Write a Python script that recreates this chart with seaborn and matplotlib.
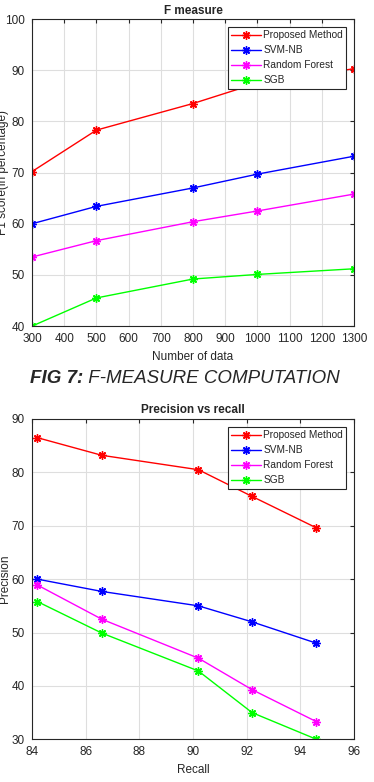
import matplotlib
matplotlib.use("Agg")
import matplotlib.pyplot as plt
import seaborn as sns
import pandas as pd

# F measure data
n_data = [300, 500, 800, 1000, 1300]
f_proposed = [70.2, 78.3, 83.5, 87.5, 90.3]
f_svmnb = [60.0, 63.4, 67.0, 69.7, 73.2]
f_rf = [53.5, 56.7, 60.4, 62.5, 65.8]
f_sgb = [40.0, 45.5, 49.2, 50.1, 51.2]

# precision vs recall data
recall = [84.2, 86.6, 90.2, 92.2, 94.6]
p_proposed = [86.5, 83.2, 80.5, 75.5, 69.6]
p_svmnb = [60.0, 57.7, 55.0, 52.0, 48.0]
p_rf = [58.9, 52.5, 45.2, 39.3, 33.3]
p_sgb = [55.8, 49.9, 42.8, 35.0, 30.0]

methods = ["Proposed Method", "SVM-NB", "Random Forest", "SGB"]
colors = ["#ff0000", "#0000ff", "#ff00ff", "#00ff00"]

sns.set_style("white")
plt.rcParams["font.family"] = ["Liberation Sans", "DejaVu Sans"]

# matlab style asterisk marker
star = (8, 2, 0)


def long_df(x, series, xname, yname):
    rows = []
    for m, ys in zip(methods, series):
        for a, b in zip(x, ys):
            rows.append({xname: a, yname: b, "method": m})
    return pd.DataFrame(rows)


def style_ax(ax):
    # seaborn paints marker edges white, asterisks need the line colour
    for ln in ax.get_lines():
        ln.set_markeredgecolor(ln.get_color())
    ax.grid(True, color="#dedede", linewidth=0.8)
    ax.set_axisbelow(True)
    ax.tick_params(direction="in", top=True, right=True, labelsize=8.5,
                   length=3, colors="#262626", pad=5)
    for s in ax.spines.values():
        s.set_color("#262626")
        s.set_linewidth(0.8)
    leg = ax.legend(loc="upper right", fontsize=7.3, frameon=True, fancybox=False,
                    edgecolor="#262626", framealpha=1, borderpad=0.35,
                    handlelength=2.9, labelspacing=0.5, handletextpad=0.25,
                    borderaxespad=0.75)
    leg.get_frame().set_linewidth(0.8)
    for ln in leg.get_lines():
        ln.set_markeredgecolor(ln.get_color())


fig = plt.figure(figsize=(3.74, 7.82), dpi=100)

ax1 = fig.add_axes([0.0856, 0.583, 0.861, 0.3926])
df1 = long_df(n_data, [f_proposed, f_svmnb, f_rf, f_sgb], "n", "f1")
sns.lineplot(data=df1, x="n", y="f1", hue="method", palette=colors,
             marker=star, markersize=6, markeredgewidth=1.0, linewidth=1.0,
             ax=ax1)
ax1.set_xlim(300, 1300)
ax1.set_ylim(40, 100)
ax1.set_xticks(range(300, 1301, 100))
ax1.set_yticks(range(40, 101, 10))
ax1.set_title("F measure", fontsize=8.5, fontweight="bold", pad=4)
ax1.set_xlabel("Number of data", fontsize=8.5, color="#262626", labelpad=4)
ax1.set_ylabel("F1 score(in percentage)", fontsize=8.5, color="#262626")
ax1.yaxis.set_label_coords(-0.072, 0.5)
style_ax(ax1)

# caption between the two panels
cap_y = 1 - 379 / 782
t1 = fig.text(30 / 374, cap_y, "FIG 7:", fontsize=13.5, fontweight="bold",
              fontstyle="italic", ha="left", va="center")
fig.canvas.draw()
bb = t1.get_window_extent()
fig.text(bb.x1 / fig.bbox.width, cap_y, " F-MEASURE COMPUTATION", fontsize=13.5,
         fontstyle="italic", ha="left", va="center")

ax2 = fig.add_axes([0.0856, 0.0546, 0.861, 0.4096])
df2 = long_df(recall, [p_proposed, p_svmnb, p_rf, p_sgb], "recall", "precision")
sns.lineplot(data=df2, x="recall", y="precision", hue="method", palette=colors,
             marker=star, markersize=6, markeredgewidth=1.0, linewidth=1.0,
             ax=ax2)
ax2.set_xlim(84, 96)
ax2.set_ylim(30, 90)
ax2.set_xticks(range(84, 97, 2))
ax2.set_yticks(range(30, 91, 10))
ax2.set_title("Precision vs recall", fontsize=8.5, fontweight="bold", pad=4)
ax2.set_xlabel("Recall", fontsize=8.5, color="#262626", labelpad=4)
ax2.set_ylabel("Precision", fontsize=8.5, color="#262626")
ax2.yaxis.set_label_coords(-0.064, 0.5)
style_ax(ax2)

fig.savefig("out.png", dpi=100)
